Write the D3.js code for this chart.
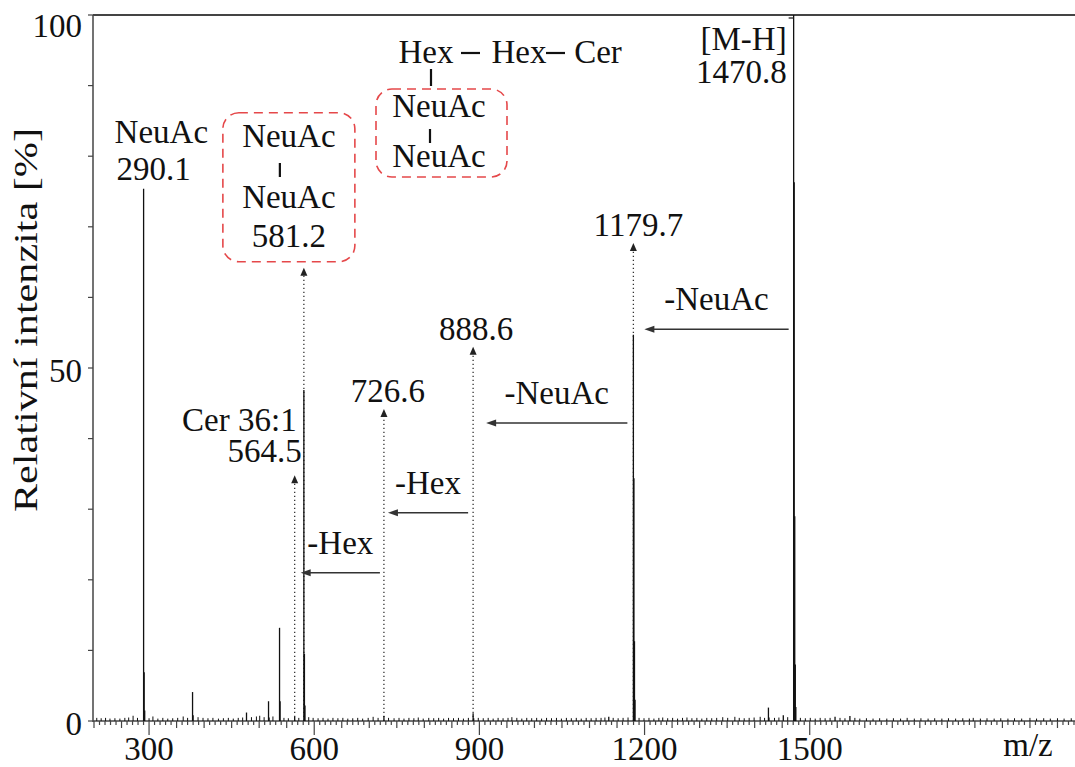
<!DOCTYPE html>
<html>
<head>
<meta charset="utf-8">
<script src="https://cdn.jsdelivr.net/npm/d3@7"></script>
</head>
<body style="margin:0">
<svg id="ms" width="1075" height="767"></svg>
<script>
// ---- spectrum data: [m/z, relative intensity %] ----
// labelled ions and their isotope envelopes
const mainPeaks = [
  [290.1, 75.4], [291.1, 6.9], [292.1, 1.5],
  [379.0, 4.1], [380.0, 0.8],
  [477.0, 1.2],
  [517.0, 2.8], [518.0, 0.5],
  [537.0, 13.2], [538.0, 2.8],
  [564.5, 0.6],
  [581.2, 46.9], [582.2, 9.5], [583.2, 2.2],
  [726.6, 0.7],
  [888.6, 1.1], [889.6, 0.4],
  [1135.0, 0.6],
  [1179.7, 54.7], [1180.7, 34.4], [1181.7, 11.3], [1182.7, 3.0],
  [1425.0, 1.9], [1426.0, 0.5],
  [1452.0, 0.8],
  [1470.8, 100], [1471.8, 76.3], [1472.8, 29.0], [1473.8, 8.0], [1474.8, 2.0],
  [1546.0, 0.6], [1573.0, 0.7]
];

// low-level chemical noise along the baseline
const noisePeaks = [
  [205,0.3],[213,0.25],[221,0.3],[229,0.2],[238,0.25],[247,0.2],[256,0.3],[263,0.35],[271,0.6],[279,0.3],
  [300,0.25],[307,0.5],[316,0.2],[325,0.3],[334,0.2],[343,0.25],[352,0.3],[362,0.5],[370,0.3],[389,0.4],
  [398,0.3],[407,0.25],[416,0.3],[426,0.2],[435,0.25],[444,0.3],[453,0.2],[462,0.3],[470,0.35],[486,0.4],
  [495,0.5],[501,0.6],[509,0.4],[525,0.5],[545,0.3],[553,0.25],[572,0.3],[590,0.4],[598,0.3],[607,0.25],
  [616,0.3],[625,0.2],[634,0.3],[643,0.25],[652,0.3],[661,0.2],[670,0.25],[679,0.3],[688,0.2],[698,0.3],
  [707,0.45],[716,0.3],[735,0.3],[745,0.25],[754,0.3],[763,0.2],[772,0.3],[781,0.25],[789,0.35],[798,0.2],
  [808,0.3],[817,0.25],[826,0.3],[835,0.2],[844,0.3],[853,0.25],[862,0.3],[871,0.2],[880,0.3],[898,0.3],
  [907,0.25],[916,0.3],[925,0.2],[934,0.3],[943,0.25],[952,0.3],[959,0.4],[968,0.3],[977,0.2],[986,0.3],
  [995,0.25],[1004,0.3],[1013,0.2],[1022,0.3],[1031,0.25],[1040,0.3],[1049,0.2],[1058,0.3],[1067,0.25],[1076,0.3],
  [1085,0.2],[1094,0.3],[1103,0.25],[1112,0.3],[1121,0.3],[1128,0.35],[1143,0.3],[1152,0.25],[1161,0.3],[1170,0.35],
  [1190,0.3],[1199,0.25],[1208,0.3],[1217,0.2],[1226,0.3],[1233,0.35],[1242,0.25],[1251,0.3],[1260,0.2],[1269,0.3],
  [1277,0.35],[1286,0.25],[1295,0.3],[1304,0.2],[1313,0.3],[1322,0.25],[1331,0.3],[1342,0.4],[1351,0.3],[1364,0.45],
  [1372,0.3],[1381,0.25],[1390,0.3],[1399,0.35],[1410,0.45],[1418,0.3],[1436,0.3],[1444,0.35],[1460,0.4],[1483,0.3],
  [1492,0.25],[1501,0.3],[1510,0.2],[1519,0.3],[1528,0.25],[1537,0.3],[1555,0.3],[1564,0.25],[1582,0.3],[1591,0.2],
  [1603,0.25],[1615,0.2],[1627,0.25],[1640,0.2],[1652,0.25],[1665,0.2],[1677,0.3],[1690,0.2],[1702,0.25],[1715,0.2],
  [1727,0.25],[1740,0.2],[1752,0.25],[1765,0.2],[1778,0.25],[1790,0.2],[1797,0.3],[1810,0.2],[1822,0.25],[1835,0.2],
  [1847,0.25],[1860,0.2],[1872,0.25],[1885,0.2],[1900,0.3],[1912,0.2],[1925,0.25],[1937,0.2],[1950,0.25],[1962,0.2],
  [1975,0.25],[1987,0.2]
];

// fragment ions marked with a dotted arrow (arrow tip in % intensity)
const fragmentMz   = [564.5, 581.2, 726.6, 888.6, 1179.7];
const fragmentTip  = [34.8, 64.2, 44.2, 53.0, 67.7];

// neutral losses between ions
const lossFrom  = [1470.8, 1179.7, 888.6, 726.6];
const lossTo    = [1179.7, 888.6, 726.6, 564.5];
const lossLevel = [55.5, 42.2, 29.5, 21.0];
const lossLabel = ["-NeuAc", "-NeuAc", "-Hex", "-Hex"];

// axis ticks
const xTickLabels = [300, 600, 900, 1200, 1500];
const yTickLabels = [0, 50, 100];

// ---- layout ----
const svg = d3.select("#ms").style("display", "block");
const x = d3.scaleLinear().domain([200, 2000]).range([94, 1085]);
const y = d3.scaleLinear().domain([0, 100]).range([721, 15]);
const axisColor = "#444";
const FS = 33;
const FONT = '"Liberation Serif", "Times New Roman", Tinos, serif';

// serif face and near-black ink for a label
const serif = (sel) => sel
  .style("font-family", FONT, "important")
  .attr("font-family", "Liberation Serif")
  .attr("fill", "#111");

// frame: top border and left axis
svg.append("line").attr("x1", x(200) - 1).attr("x2", 1075)
  .attr("y1", y(100)).attr("y2", y(100))
  .attr("stroke", axisColor).attr("stroke-width", 2);
svg.append("line").attr("x1", x(200) - 1).attr("x2", x(200) - 1)
  .attr("y1", y(100)).attr("y2", y(0) + 1)
  .attr("stroke", axisColor).attr("stroke-width", 1.5);

// y ticks
svg.append("g").selectAll("line").data(d3.range(0, 101, 10)).join("line")
  .attr("x1", x(200) - 6).attr("x2", x(200) - 1)
  .attr("y1", d => y(d)).attr("y2", d => y(d))
  .attr("stroke", axisColor).attr("stroke-width", 1.2);
svg.selectAll("text.ytick").data(yTickLabels).join("text")
  .attr("class", "ytick")
  .call(serif)
  .attr("x", 82).attr("y", d => y(d) + (d === 100 ? 22 : 14))
  .attr("text-anchor", "end").attr("font-size", FS)
  .text(d => d);

// y axis title
svg.append("text")
  .call(serif)
  .attr("transform", "translate(37,320) rotate(-90)")
  .attr("text-anchor", "middle").attr("font-size", 33)
  .attr("textLength", 384).attr("lengthAdjust", "spacingAndGlyphs")
  .text("Relativní intenzita [%]");

// x axis line and ticks
svg.append("line").attr("x1", x(200) - 1).attr("x2", 1075)
  .attr("y1", y(0)).attr("y2", y(0))
  .attr("stroke", axisColor).attr("stroke-width", 1.5);
svg.append("g").selectAll("line").data(d3.range(200, 2001, 10)).join("line")
  .attr("x1", d => x(d)).attr("x2", d => x(d))
  .attr("y1", y(0))
  .attr("y2", d => y(0) + (xTickLabels.includes(d) ? 14 : d % 50 === 0 ? 7 : 4))
  .attr("stroke", axisColor).attr("stroke-width", 1.2);
svg.selectAll("text.xtick").data(xTickLabels).join("text")
  .attr("class", "xtick")
  .call(serif)
  .attr("x", d => x(d)).attr("y", 760)
  .attr("text-anchor", "middle").attr("font-size", FS)
  .text(d => d);
svg.append("text").call(serif).attr("x", 1028).attr("y", 756)
  .attr("text-anchor", "middle").attr("font-size", FS).text("m/z");

// arrowhead helpers
function upHead(g, cx, tipY) {
  g.append("path")
    .attr("d", `M${cx},${tipY} L${cx - 3.5},${tipY + 8} L${cx + 3.5},${tipY + 8} Z`)
    .attr("fill", "#222");
}
function leftHead(g, tipX, cy) {
  g.append("path")
    .attr("d", `M${tipX},${cy} L${tipX + 10},${cy - 3.5} L${tipX + 10},${cy + 3.5} Z`)
    .attr("fill", "#333");
}

// dotted fragment markers
fragmentMz.forEach((m, i) => {
  const px = x(m), tip = y(fragmentTip[i]);
  svg.append("line").attr("x1", px).attr("x2", px)
    .attr("y1", y(0)).attr("y2", tip + 6)
    .attr("stroke", "#333").attr("stroke-width", 1.3)
    .attr("stroke-dasharray", "1.3,2.7");
  upHead(svg, px, tip);
});

// spectrum sticks
svg.selectAll("line.noise").data(noisePeaks).join("line")
  .attr("class", "noise")
  .attr("x1", d => x(d[0])).attr("x2", d => x(d[0]))
  .attr("y1", y(0)).attr("y2", d => y(d[1]) - 1)
  .attr("stroke", "#111").attr("stroke-width", 1);
svg.selectAll("line.peak").data(mainPeaks).join("line")
  .attr("class", "peak")
  .attr("x1", d => x(d[0])).attr("x2", d => x(d[0]))
  .attr("y1", y(0)).attr("y2", d => y(d[1]))
  .attr("stroke", "#111").attr("stroke-width", 1.3);

// text helper
const tx = (t, px, py, anchor) => svg.append("text")
  .call(serif)
  .attr("x", px).attr("y", py)
  .attr("text-anchor", anchor || "middle").attr("font-size", FS)
  .text(t);

// neutral-loss arrows (gaps keep the shafts clear of the stick lines)
const tipGap = [11, 13, 4, 6], tailGap = [5, 6, 5, 4];
lossFrom.forEach((m, i) => {
  const x0 = x(m) - tailGap[i], x1 = x(lossTo[i]) + tipGap[i], yy = y(lossLevel[i]);
  svg.append("line").attr("x1", x0).attr("x2", x1 + 8)
    .attr("y1", yy).attr("y2", yy)
    .attr("stroke", "#333").attr("stroke-width", 1.5);
  leftHead(svg, x1, yy);
  tx(lossLabel[i], (x0 + x1) / 2, yy - 19);
});

// fragment value labels
tx("Cer 36:1", x(564.5) + 2, y(fragmentTip[0]) - 44, "end");
tx("564.5", x(564.5) + 7, y(fragmentTip[0]) - 13, "end");
tx("726.6", x(726.6) + 4, y(fragmentTip[2]) - 7);
tx("888.6", x(888.6) + 3, y(fragmentTip[3]) - 7);
tx("1179.7", x(1179.7) + 5, y(fragmentTip[4]) - 7);

// base peak and NeuAc ion
tx("NeuAc", x(290.1) - 29, 143, "start");
tx("290.1", x(290.1) - 27, 180, "start");
tx("[M-H]", x(1470.8) - 7, 50, "end");
svg.append("line").attr("x1", x(1470.8) - 5).attr("x2", x(1470.8))
  .attr("y1", 18).attr("y2", 18).attr("stroke", "#222").attr("stroke-width", 1.3);
tx("1470.8", x(1470.8) - 7, 83, "end");

// dashed structure boxes
const box = (x0, y0, w, h) => svg.append("rect")
  .attr("x", x0).attr("y", y0).attr("width", w).attr("height", h)
  .attr("rx", 16).attr("ry", 16)
  .attr("fill", "none").attr("stroke", "#e5484a").attr("stroke-width", 1.6)
  .attr("stroke-dasharray", "9,6");
const bond = (px, y0, y1) => svg.append("line").attr("x1", px).attr("x2", px)
  .attr("y1", y0).attr("y2", y1).attr("stroke", "#111").attr("stroke-width", 2.2);

// NeuAc-NeuAc fragment at 581.2
const b1 = x(581.2) - 15;
box(b1 - 66, y(fragmentTip[1]) - 155, 132, 149);
tx("NeuAc", b1, 147);
bond(b1 - 9, 163, 177);
tx("NeuAc", b1, 208);
tx("581.2", b1, 247);

// parent structure: Hex-Hex-Cer with disialyl branch
tx("NeuAc", 439, 117);
bond(430, 129, 143);
tx("NeuAc", 439, 167);
box(376, 89, 131, 88);
tx("Hex", 426, 63);
svg.append("line").attr("x1", 461).attr("x2", 480).attr("y1", 53).attr("y2", 53)
  .attr("stroke", "#111").attr("stroke-width", 2.2);
tx("Hex", 519, 63);
svg.append("line").attr("x1", 546).attr("x2", 565).attr("y1", 53).attr("y2", 53)
  .attr("stroke", "#111").attr("stroke-width", 2.2);
tx("Cer", 598, 63);
bond(431, 69, 86);
</script>
</body>
</html>
